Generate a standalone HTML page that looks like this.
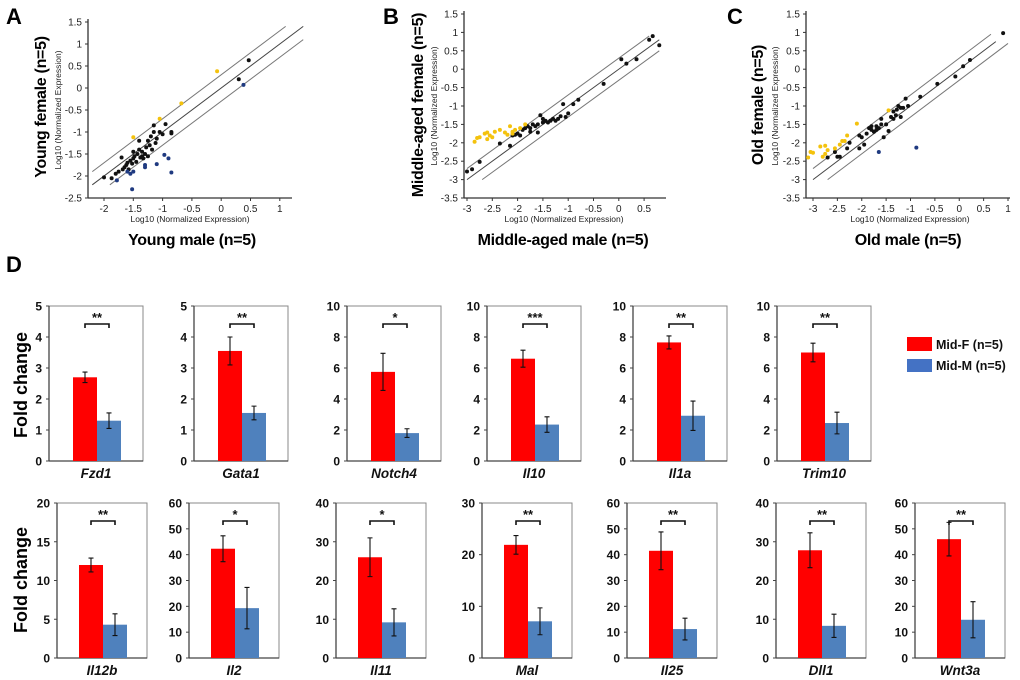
<!DOCTYPE html>
<html><head><meta charset="utf-8">
<style>
body{margin:0;background:#fff;}
svg{display:block;font-family:"Liberation Sans",Arial,sans-serif;}
</style></head>
<body>
<svg id="fig" width="1020" height="680" viewBox="0 0 1020 680"></svg>
<script>
// ---------- scatter data ----------
const aBlackX=[-2.0,-1.87,-1.8,-1.75,-1.7,-1.68,-1.65,-1.62,-1.6,-1.58,-1.55,-1.52,-1.5,-1.48,-1.45,-1.43,-1.4,-1.38,-1.35,-1.33,-1.3,-1.28,-1.25,-1.25,-1.22,-1.2,-1.18,-1.15,-1.15,-1.12,-1.1,-1.05,-1.0,-0.95,-0.85,-0.85,-1.4,-1.5,-1.35,0.3,0.47];
const aBlackY=[-2.03,-2.05,-1.95,-1.9,-1.58,-1.85,-1.8,-1.75,-1.7,-1.85,-1.65,-1.72,-1.6,-1.55,-1.68,-1.5,-1.4,-1.58,-1.45,-1.6,-1.5,-1.35,-1.55,-1.2,-1.3,-1.1,-1.4,-0.85,-1.0,-1.25,-1.15,-1.0,-1.05,-0.82,-1.0,-1.03,-1.2,-1.45,-1.55,0.2,0.63];
const aBlueX=[-1.78,-1.6,-1.55,-1.52,-1.5,-1.3,-1.3,-1.1,-0.97,-0.9,-0.85,0.38];
const aBlueY=[-2.1,-1.9,-1.95,-2.3,-1.9,-1.75,-1.8,-1.73,-1.52,-1.6,-1.92,0.07];
const aYellowX=[-1.5,-1.05,-0.68,-0.07];
const aYellowY=[-1.12,-0.7,-0.35,0.38];
const bBlackX=[-3.0,-2.9,-2.75,-2.35,-2.15,-2.1,-2.05,-2.0,-1.95,-1.9,-1.85,-1.8,-1.75,-1.7,-1.65,-1.6,-1.6,-1.55,-1.5,-1.45,-1.4,-1.35,-1.3,-1.25,-1.2,-1.15,-1.1,-1.05,-1.0,-0.9,-0.8,-0.3,0.05,0.15,0.35,0.6,0.67,0.8,-1.75,-1.5];
const bBlackY=[-2.78,-2.72,-2.52,-2.02,-2.08,-1.8,-1.78,-1.75,-1.8,-1.65,-1.6,-1.55,-1.6,-1.5,-1.55,-1.72,-1.5,-1.25,-1.45,-1.4,-1.45,-1.4,-1.35,-1.4,-1.35,-1.28,-0.95,-1.3,-1.2,-0.95,-0.83,-0.4,0.27,0.15,0.27,0.8,0.9,0.65,-1.7,-1.35];
const bYellowX=[-2.85,-2.8,-2.75,-2.65,-2.6,-2.6,-2.55,-2.5,-2.45,-2.35,-2.25,-2.15,-2.2,-2.1,-2.05,-1.95,-1.85,-2.1];
const bYellowY=[-1.97,-1.87,-1.85,-1.75,-1.72,-1.9,-1.8,-1.85,-1.7,-1.65,-1.72,-1.55,-1.78,-1.7,-1.65,-1.6,-1.5,-1.75];
const cBlackX=[-2.7,-2.55,-2.5,-2.45,-2.3,-2.25,-2.05,-2.0,-1.95,-1.9,-1.85,-1.8,-1.75,-1.7,-1.65,-1.6,-1.6,-1.55,-1.5,-1.45,-1.4,-1.35,-1.3,-1.28,-1.25,-1.2,-1.15,-1.1,-1.05,-0.8,-0.45,-0.08,0.08,0.22,0.9,-1.8,-1.7,-2.05,-1.35,-1.2];
const cBlackY=[-2.4,-2.25,-2.38,-2.38,-2.15,-2.0,-2.15,-1.85,-2.05,-1.75,-1.6,-1.55,-1.7,-1.55,-1.6,-1.5,-1.35,-1.85,-1.5,-1.68,-1.3,-1.15,-1.25,-1.1,-1.0,-1.3,-1.05,-0.8,-1.0,-0.75,-0.4,-0.2,0.08,0.25,0.98,-1.65,-1.65,-1.8,-1.35,-1.05];
const cBlueX=[-1.65,-0.88];
const cBlueY=[-2.25,-2.13];
const cYellowX=[-3.1,-3.05,-3.0,-2.85,-2.75,-2.75,-2.7,-2.55,-2.45,-2.4,-2.35,-2.3,-2.1,-1.45,-2.8];
const cYellowY=[-2.4,-2.25,-2.27,-2.1,-2.08,-2.3,-2.2,-2.15,-2.05,-1.95,-1.95,-1.8,-1.48,-1.12,-2.38];
const aXTicks=[-2,-1.5,-1,-0.5,0,0.5,1];
const aYTicks=[-2.5,-2,-1.5,-1,-0.5,0,0.5,1,1.5];
const bXTicks=[-3,-2.5,-2,-1.5,-1,-0.5,0,0.5];
const bcYTicks=[-3.5,-3,-2.5,-2,-1.5,-1,-0.5,0,0.5,1,1.5];
const cXTicks=[-3,-2.5,-2,-1.5,-1,-0.5,0,0.5,1];

// ---------- bar data ----------
const genes=["Fzd1","Gata1","Notch4","Il10","Il1a","Trim10","Il12b","Il2","Il11","Mal","Il25","Dll1","Wnt3a"];
const femaleVals=[2.7,3.55,5.75,6.6,7.65,7.0,12,42.3,26,21.9,41.5,27.8,46];
const femaleErr=[0.17,0.45,1.2,0.55,0.42,0.6,0.9,5,5,1.8,7.3,4.5,6.5];
const maleVals=[1.3,1.55,1.8,2.35,2.92,2.45,4.3,19.3,9.2,7.1,11.2,8.3,14.8];
const maleErr=[0.25,0.22,0.28,0.5,0.95,0.7,1.4,8,3.5,2.6,4.2,3,7];
const axisMax=[5,5,10,10,10,10,20,60,40,30,60,40,60];
const tickStep=[1,1,2,2,2,2,5,10,10,10,10,10,10];
const stars=["**","**","*","***","**","**","**","*","*","**","**","**","**"];

const NS="http://www.w3.org/2000/svg";
const svg=document.getElementById('fig');
function mk(tag,attrs,parent,txt){const e=document.createElementNS(NS,tag);for(const k in attrs)e.setAttribute(k,attrs[k]);if(txt!==undefined)e.textContent=txt;(parent||svg).appendChild(e);return e;}

function scatter(cfg){
  const g=mk('g',{});
  
  
  const sx=v=>cfg.x0+(v-cfg.xv0)*cfg.xs;
  const sy=v=>cfg.y0-(v-cfg.yv0)*cfg.ys;
  const ya=mk('line',{x1:cfg.ax,y1:sy(cfg.yTicks[cfg.yTicks.length-1])-3,x2:cfg.ax,y2:cfg.y0,stroke:'#333','stroke-width':1.3},g);
  
  
  const xa=mk('line',{x1:cfg.ax,y1:cfg.y0,x2:cfg.xEnd,y2:cfg.y0,stroke:'#333','stroke-width':1.3},g);
  
  
  cfg.yTicks.forEach(t=>{
    mk('line',{x1:cfg.ax-3,y1:sy(t),x2:cfg.ax,y2:sy(t),stroke:'#333'},g);
    const tl=mk('text',{x:cfg.ax-6,y:sy(t)+3.5,'font-size':10,'text-anchor':'end',fill:'#222'},g,String(t));
    
    
  });
  cfg.xTicks.forEach(t=>{
    mk('line',{x1:sx(t),y1:cfg.y0,x2:sx(t),y2:cfg.y0+3,stroke:'#333'},g);
    const tl=mk('text',{x:sx(t),y:cfg.y0+14,'font-size':10,'text-anchor':'middle',fill:'#222'},g,String(t));
    
    
  });
  cfg.lines.forEach(l=>{
    const ln=mk('line',{x1:sx(l[0]),y1:sy(l[0]+l[2]),x2:sx(l[1]),y2:sy(l[1]+l[2]),stroke:l[2]===0?'#444':'#777','stroke-width':1},g);
    
    
  });
  const dots=(xs,ys,col,nm)=>xs.forEach((v,i)=>{
    const c=mk('circle',{cx:sx(v),cy:sy(ys[i]),r:2,fill:col},g);
    
    
  });
  dots(cfg.bx,cfg.by,'#111','gene-point');
  if(cfg.nx)dots(cfg.nx,cfg.ny,'#1f3a80','male-biased-point');
  dots(cfg.yx,cfg.yy,'#f4c20d','female-biased-point');
  const midY=(cfg.y0+sy(cfg.yTicks[cfg.yTicks.length-1]))/2;
  const sl=mk('text',{x:cfg.smallYX,y:midY,'font-size':8.5,'text-anchor':'middle',transform:`rotate(-90 ${cfg.smallYX} ${midY})`,fill:'#222'},g,'Log10 (Normalized Expression)');
  
  
  const bl=mk('text',{x:cfg.bigYX,y:cfg.bigYY,'font-size':16,'font-weight':'bold','letter-spacing':-0.3,'text-anchor':'middle',transform:`rotate(-90 ${cfg.bigYX} ${cfg.bigYY})`,fill:'#000'},g,cfg.yTitle);
  
  
  const xs2=mk('text',{x:cfg.xSubX,y:cfg.y0+24,'font-size':8.5,'text-anchor':'middle',fill:'#222'},g,'Log10 (Normalized Expression)');
  
  
  const xt=mk('text',{x:cfg.xTitleX,y:cfg.y0+47,'font-size':16,'font-weight':'bold','letter-spacing':-0.3,'text-anchor':'middle',fill:'#000'},g,cfg.xTitle);
  
  
  const pl=mk('text',{x:cfg.letterX,y:24,'font-size':22,'font-weight':'bold',fill:'#000'},g,cfg.letter);
  
  
}

scatter({name:'scatter-young',letter:'A',letterX:6,ax:88,x0:104,xv0:-2,xs:58.6,y0:198,yv0:-2.5,ys:44,xEnd:292,
  xTicks:aXTicks,yTicks:aYTicks,lines:[[-2.2,1.1,0.3],[-2.2,1.4,0],[-1.9,1.4,-0.3]],
  bx:aBlackX,by:aBlackY,nx:aBlueX,ny:aBlueY,yx:aYellowX,yy:aYellowY,
  smallYX:61,bigYX:46,bigYY:107,yTitle:'Young female (n=5)',xSubX:190,xTitleX:192,xTitle:'Young male (n=5)'});
scatter({name:'scatter-middle-aged',letter:'B',letterX:383,ax:464,x0:467,xv0:-3,xs:50.6,y0:198,yv0:-3.5,ys:36.8,xEnd:666,
  xTicks:bXTicks,yTicks:bcYTicks,lines:[[-3,0.6,0.3],[-3,0.8,0],[-2.7,0.8,-0.3]],
  bx:bBlackX,by:bBlackY,yx:bYellowX,yy:bYellowY,
  smallYX:437,bigYX:423,bigYY:105,yTitle:'Middle-aged female (n=5)',xSubX:564,xTitleX:563,xTitle:'Middle-aged male (n=5)'});
scatter({name:'scatter-old',letter:'C',letterX:727,ax:806,x0:813,xv0:-3,xs:48.75,y0:198,yv0:-3.5,ys:36.8,xEnd:1010,
  xTicks:cXTicks,yTicks:bcYTicks,lines:[[-3,0.65,0.3],[-3,0.75,0],[-2.7,1.0,-0.3]],
  bx:cBlackX,by:cBlackY,nx:cBlueX,ny:cBlueY,yx:cYellowX,yy:cYellowY,
  smallYX:778,bigYX:763,bigYY:105,yTitle:'Old female (n=5)',xSubX:910,xTitleX:908,xTitle:'Old male (n=5)'});

// ---------- D panel ----------
const dl=mk('text',{x:6,y:272,'font-size':22,'font-weight':'bold',fill:'#000'},svg,'D');


const boxLeft=[49,194,347,487,633,777,57,189,336,482,627,776,915];
genes.forEach((gname,i)=>{
  const top=i<6?306:503, bot=i<6?461:658, w=i<6?94:90, L=boxLeft[i];
  const g=mk('g',{});
  
  
  const sy=v=>bot-(v/axisMax[i])*(bot-top);
  mk('rect',{x:L,y:top,width:w,height:bot-top,fill:'none',stroke:'#888','stroke-width':1},g);
  mk('line',{x1:L,y1:top,x2:L,y2:bot,stroke:'#444','stroke-width':1.3},g);
  mk('line',{x1:L,y1:bot,x2:L+w,y2:bot,stroke:'#444','stroke-width':1.3},g);
  for(let t=0;t<=axisMax[i]+1e-9;t+=tickStep[i]){
    mk('line',{x1:L-3,y1:sy(t),x2:L,y2:sy(t),stroke:'#444'},g);
    const tl=mk('text',{x:L-7,y:sy(t)+4.5,'font-size':12,'font-weight':'bold','text-anchor':'end',fill:'#111'},g,String(t));
    
    
  }
  const cx=L+w/2+1, bw=24;
  const bars=[[femaleVals[i],femaleErr[i],'#ff0000',cx-bw,'bar-mid-f'],[maleVals[i],maleErr[i],'#4f81bd',cx,'bar-mid-m']];
  bars.forEach(b=>{
    const r=mk('rect',{x:b[3],y:sy(b[0]),width:bw,height:bot-sy(b[0]),fill:b[2]},g);
    
    
    const ex=b[3]+bw/2;
    const e=mk('path',{d:`M${ex},${sy(b[0]+b[1])}V${sy(b[0]-b[1])}M${ex-2.5},${sy(b[0]+b[1])}h5M${ex-2.5},${sy(b[0]-b[1])}h5`,stroke:'#111','stroke-width':1.1,fill:'none'},g);
    
    
  });
  const by=top+18;
  const br=mk('path',{d:`M${cx-bw/2},${by+4}V${by}H${cx+bw/2}V${by+4}`,stroke:'#111','stroke-width':1.6,fill:'none'},g);
  
  
  const st=mk('text',{x:cx,y:by-2,'font-size':13,'font-weight':'bold','text-anchor':'middle',fill:'#111'},g,stars[i]);
  
  
  const gl=mk('text',{x:L+w/2,y:bot+17,'font-size':13.5,'font-weight':'bold','font-style':'italic','text-anchor':'middle',fill:'#111'},g,gname);
  
  
});
[[385],[580]].forEach(p=>{
  const t=mk('text',{x:27,y:p[0],'font-size':18,'font-weight':'bold','text-anchor':'middle',transform:`rotate(-90 27 ${p[0]})`,fill:'#000'},svg,'Fold change');
  
  
});
// legend
const lg=mk('g',{});


const l1=mk('rect',{x:907,y:337,width:25,height:14,fill:'#ff0000'},lg);


const lt1=mk('text',{x:936,y:349,'font-size':12.5,'font-weight':'bold',fill:'#111'},lg,'Mid-F (n=5)');


const l2=mk('rect',{x:907,y:359,width:25,height:13,fill:'#4472c4'},lg);


const lt2=mk('text',{x:936,y:370,'font-size':12.5,'font-weight':'bold',fill:'#111'},lg,'Mid-M (n=5)');


</script>
</body></html>
